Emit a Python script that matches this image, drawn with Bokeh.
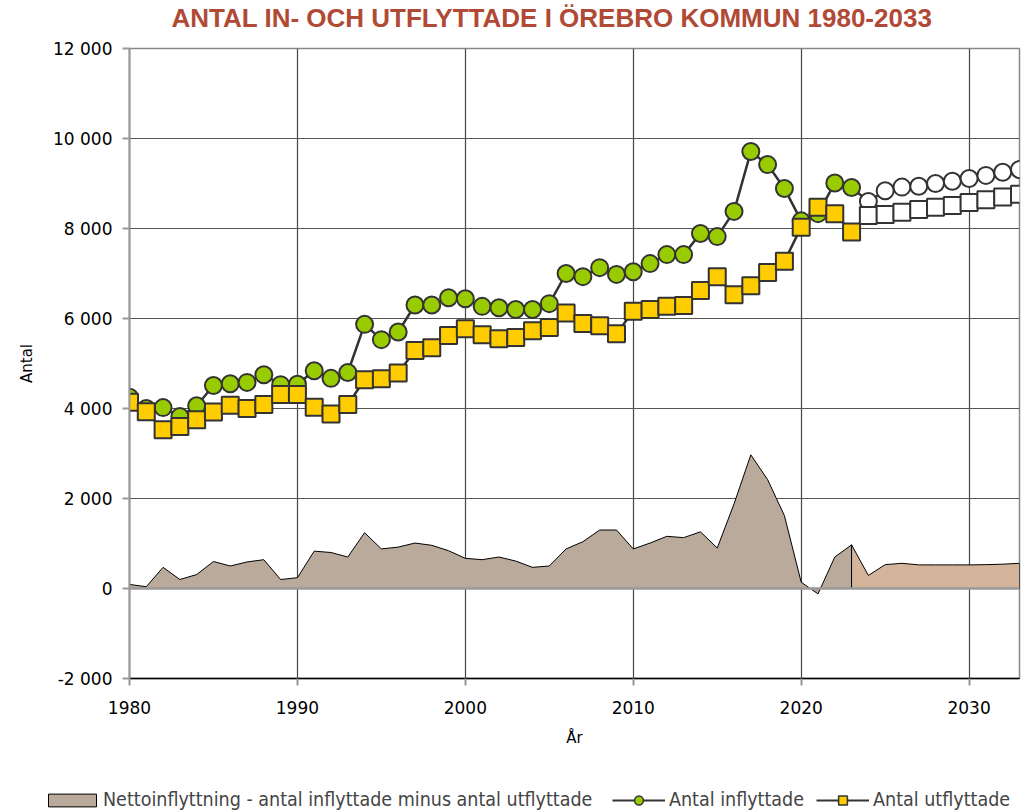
import numpy as np
from bokeh.plotting import figure
from bokeh.models import ColumnDataSource, FixedTicker, Legend, LegendItem, Span, Label
from bokeh.embed import file_html
from bokeh.resources import INLINE

years = list(range(1980, 2034))
inflyttade = [4250, 4000, 4020, 3820, 4060, 4510, 4550, 4580, 4750, 4530,
              4540, 4840, 4670, 4800, 5870, 5530, 5700, 6300, 6300, 6460,
              6440, 6270, 6240, 6200, 6200, 6330, 7000, 6930, 7130, 6980,
              7040, 7220, 7420, 7420, 7890, 7820, 8380, 9710, 9420, 8890,
              8170, 8330, 9010, 8910, 8600, 8840, 8920, 8940, 9000, 9050,
              9110, 9180, 9250, 9310]
utflyttade = [4140, 3930, 3530, 3600, 3750, 3920, 4070, 4000, 4090, 4310,
              4310, 4030, 3880, 4090, 4640, 4660, 4790, 5290, 5350, 5620,
              5770, 5640, 5550, 5580, 5730, 5800, 6120, 5890, 5840, 5660,
              6160, 6200, 6270, 6290, 6620, 6930, 6530, 6730, 7020, 7270,
              8030, 8470, 8330, 7920, 8290, 8310, 8360, 8420, 8470, 8510,
              8580, 8640, 8700, 8760]
netto = [90, 40, 470, 200, 310, 600, 500, 590, 640, 200,
         240, 830, 800, 700, 1240, 880, 920, 1010, 960, 840,
         670, 640, 700, 610, 470, 500, 880, 1040, 1300, 1300,
         880, 1010, 1160, 1130, 1260, 900, 1880, 2970, 2420, 1620,
         140, -120, 700, 970, 290, 530, 560, 525, 525, 525,
         525, 530, 540, 560]
last_outcome_year = 2023
y_ticks = [-2000, 0, 2000, 4000, 6000, 8000, 10000, 12000]
y_tick_labels = ["-2 000", "0", "2 000", "4 000", "6 000", "8 000", "10 000", "12 000"]
x_ticks = [1980, 1990, 2000, 2010, 2020, 2030]

title_text = "ANTAL IN- OCH UTFLYTTADE I ÖREBRO KOMMUN 1980-2033"
label_net = "Nettoinflyttning - antal inflyttade minus antal utflyttade"
label_in = "Antal inflyttade"
label_out = "Antal utflyttade"

TICK_FONT = "DejaVu Sans"
LEG_FONT = "Liberation Sans Narrow, DejaVu Sans Condensed, sans-serif"

C_IN = "#99cc00"
C_OUT = "#ffcc00"
C_NET = "#b9aa9b"
C_NET_F = "#d4b59b"
C_LINE = "#333333"

W = 1022


def strip(height):
    f = figure(width=W, height=height, x_range=(0, 1), y_range=(0, 1),
               x_axis_type=None, y_axis_type=None,
               output_backend="svg", toolbar_location=None)
    f.min_border = 0
    f.min_border_left = 0
    f.min_border_right = 0
    f.min_border_top = 0
    f.min_border_bottom = 0
    f.outline_line_color = None
    f.grid.visible = False
    return f


# title strip
tt = strip(38)
tt.add_layout(Label(x=171, y=21, x_units="screen", y_units="screen", text=title_text,
                    text_color="#b04a36", text_font="Liberation Sans",
                    text_font_size="26px", text_font_style="bold",
                    text_align="left", text_baseline="middle"))

# main chart
p = figure(width=W, height=742, x_range=(1980, 2033), y_range=(-2000, 12000),
           output_backend="svg", toolbar_location=None)
p.min_border_left = 129
p.min_border_right = 3
p.min_border_top = 10
p.min_border_bottom = 102

p.background_fill_color = "white"
p.border_fill_color = "white"
p.outline_line_color = "#888888"
p.outline_line_width = 1.5

p.xgrid.ticker = FixedTicker(ticks=x_ticks)
p.ygrid.ticker = FixedTicker(ticks=y_ticks)
p.xgrid.grid_line_color = "#444444"
p.ygrid.grid_line_color = "#555555"
p.xgrid.grid_line_width = 1.2
p.ygrid.grid_line_width = 1.2

p.xaxis.ticker = FixedTicker(ticks=x_ticks)
p.yaxis.ticker = FixedTicker(ticks=y_ticks)
p.yaxis.major_label_overrides = {v: s for v, s in zip(y_ticks, y_tick_labels)}
for ax in (p.xaxis, p.yaxis):
    ax.major_label_text_font = TICK_FONT
    ax.major_label_text_font_size = "17px"
    ax.major_label_text_color = "black"
    ax.minor_tick_line_color = None
    ax.major_tick_in = 0
    ax.major_tick_out = 7
    ax.major_tick_line_color = "#999999"
    ax.major_tick_line_width = 2
    ax.axis_label_text_font = TICK_FONT
    ax.axis_label_text_font_size = "15px"
    ax.axis_label_text_font_style = "normal"
    ax.axis_label_text_color = "black"
p.xaxis.axis_line_color = "black"
p.xaxis.axis_line_width = 1.5
p.yaxis.axis_line_color = "#999999"
p.yaxis.axis_line_width = 2
p.xaxis.axis_label = "År"
p.yaxis.axis_label = "Antal"
p.xaxis.major_label_standoff = 15
p.yaxis.major_label_standoff = 10
p.xaxis.axis_label_standoff = 12
p.yaxis.axis_label_standoff = 14

# net migration areas
yrs = np.array(years)
net = np.array(netto, dtype=float)
hist = yrs <= last_outcome_year
fore = yrs >= last_outcome_year
hx = np.concatenate([yrs[hist], yrs[hist][::-1]])
hy = np.concatenate([net[hist], np.zeros(hist.sum())])
fx = np.concatenate([yrs[fore], yrs[fore][::-1]])
fy = np.concatenate([net[fore], np.zeros(fore.sum())])
p.patch(hx, hy, fill_color=C_NET, line_color="black", line_width=1)
p.patch(fx, fy, fill_color=C_NET_F, line_color="black", line_width=1)

zero = Span(location=0, dimension="width", line_color="#999999", line_width=2.5)
p.add_layout(zero)

fill_in = [C_IN if y <= last_outcome_year else "white" for y in years]
fill_out = [C_OUT if y <= last_outcome_year else "white" for y in years]
src = ColumnDataSource(dict(x=years, inn=inflyttade, out=utflyttade,
                            fin=fill_in, fout=fill_out))

p.line("x", "inn", source=src, line_color=C_LINE, line_width=2.5)
p.scatter("x", "inn", source=src, marker="circle", size=17,
          fill_color="fin", line_color=C_LINE, line_width=2)
p.line("x", "out", source=src, line_color=C_LINE, line_width=2.5)
p.scatter("x", "out", source=src, marker="square", size=17,
          fill_color="fout", line_color=C_LINE, line_width=2)

# legend strip below the chart
lg = strip(31)
# legend proxies: same data, lying outside this strip's (0..1) ranges so only the legend shows
d_net = lg.patch(hx, hy, fill_color=C_NET, line_color="black", line_width=1)
d_in_l = lg.line(years, inflyttade, line_color=C_LINE, line_width=2)
d_in_m = lg.scatter(years, inflyttade, marker="circle", fill_color=C_IN,
                    line_color=C_LINE, line_width=1.5)
d_out_l = lg.line(years, utflyttade, line_color=C_LINE, line_width=2)
d_out_m = lg.scatter(years, utflyttade, marker="square", fill_color=C_OUT,
                     line_color=C_LINE, line_width=1.5)


def style(leg, gw, gh, standoff, spacing):
    leg.label_text_font = LEG_FONT
    leg.label_text_font_size = "19.5px"
    leg.label_height = 22
    leg.glyph_width = gw
    leg.glyph_height = gh
    leg.label_standoff = standoff
    leg.spacing = spacing
    leg.padding = 0
    leg.margin = 0
    leg.border_line_color = None
    leg.background_fill_alpha = 0


leg1 = Legend(items=[LegendItem(label=label_net, renderers=[d_net])],
              orientation="horizontal", location=(42, 0))
style(leg1, 60, 16, 1, 0)
leg2 = Legend(items=[
    LegendItem(label=label_in, renderers=[d_in_l, d_in_m], index=0),
    LegendItem(label=label_out, renderers=[d_out_l, d_out_m], index=0),
], orientation="horizontal", location=(612, 0))
style(leg2, 53, 22, 4, 12)
lg.add_layout(leg1, "center")
lg.add_layout(leg2, "center")

open("out.html", "w").write(file_html([tt, p, lg], INLINE))
